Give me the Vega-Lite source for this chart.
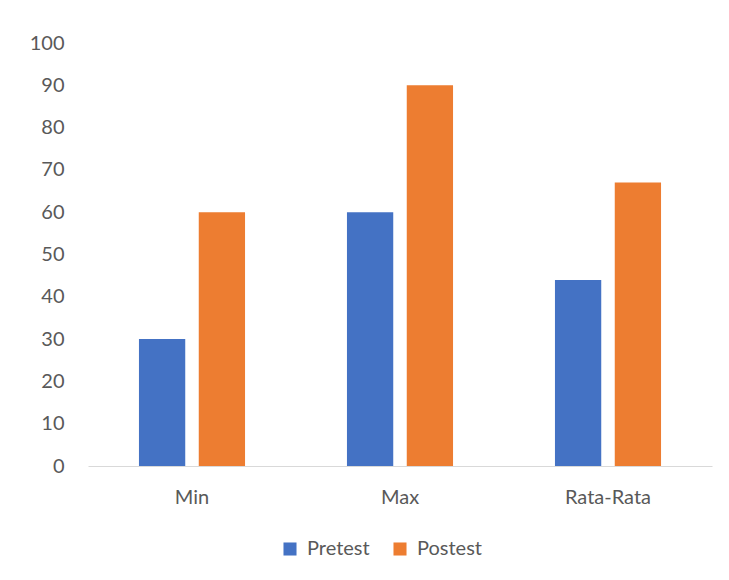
{
  "$schema": "https://vega.github.io/schema/vega-lite/v6.json",
  "autosize": "none",
  "width": 624,
  "height": 423,
  "padding": {"left": 88, "top": 43, "right": 17, "bottom": 114},
  "background": "white",
  "data": {"values": [
    {"kategori": "Min", "seri": "Pretest", "nilai": 30},
    {"kategori": "Min", "seri": "Postest", "nilai": 60},
    {"kategori": "Max", "seri": "Pretest", "nilai": 60},
    {"kategori": "Max", "seri": "Postest", "nilai": 90},
    {"kategori": "Rata-Rata", "seri": "Pretest", "nilai": 44},
    {"kategori": "Rata-Rata", "seri": "Postest", "nilai": 67}
  ]},
  "mark": {"type": "bar"},
  "encoding": {
    "x": {
      "field": "kategori", "type": "nominal", "sort": ["Min", "Max", "Rata-Rata"],
      "scale": {"paddingInner": 0.49, "paddingOuter": 0.245},
      "axis": {"title": null, "labelAngle": 0, "ticks": false, "domainColor": "#d9d9d9", "domainWidth": 1, "labelPadding": 21, "labelFontSize": 20, "labelColor": "#595959", "labelFont": "Lato"}
    },
    "xOffset": {"field": "seri", "type": "nominal", "sort": ["Pretest", "Postest"], "scale": {"paddingInner": 0.226}},
    "y": {
      "field": "nilai", "type": "quantitative",
      "scale": {"domain": [0, 100], "nice": false},
      "axis": {"title": null, "values": [0,10,20,30,40,50,60,70,80,90,100], "labelOverlap": false, "grid": false, "domain": false, "ticks": false, "labelPadding": 24, "labelFontSize": 20, "labelColor": "#595959", "labelFont": "Lato"}
    },
    "color": {
      "field": "seri", "type": "nominal", "sort": ["Pretest", "Postest"],
      "scale": {"domain": ["Pretest", "Postest"], "range": ["#4472C4", "#ED7D31"]},
      "legend": {"title": null, "orient": "none", "direction": "horizontal", "legendX": 192, "legendY": 496, "symbolType": "square", "symbolSize": 170, "symbolStrokeWidth": 0, "symbolOpacity": 1, "labelFontSize": 20, "labelColor": "#595959", "labelFont": "Lato", "columnPadding": 20, "labelOffset": 7}
    }
  },
  "config": {"view": {"stroke": null}}
}
